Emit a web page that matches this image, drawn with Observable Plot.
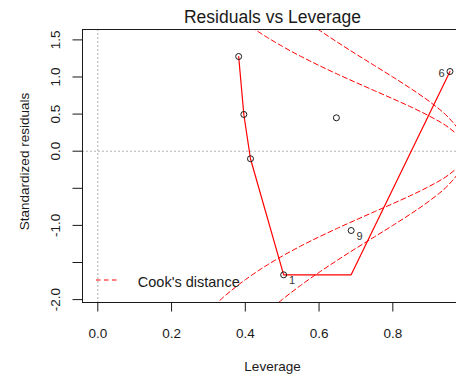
<!DOCTYPE html>
<html>
<head>
<meta charset="utf-8">
<script src="https://cdn.jsdelivr.net/npm/d3@7"></script>
<script src="https://cdn.jsdelivr.net/npm/@observablehq/plot@0.6"></script>
<style>
  html, body { margin: 0; padding: 0; background: #fff; }
  #chart { width: 456px; height: 381px; }
</style>
</head>
<body>
<div id="chart"></div>
<script>
// Observations: leverage (hat values) and standardized residuals
const leverage = [0.382, 0.396, 0.414, 0.504, 0.647, 0.687, 0.955];
const stdResid = [1.276, 0.495, -0.102, -1.666, 0.450, -1.069, 1.074];
const pointLabel = ["", "", "", "1", "", "9", "6"];

// Smoothed trend of residuals against leverage
const smoothLeverage = [0.382, 0.396, 0.414, 0.504, 0.647, 0.687, 0.955];
const smoothResid = [1.276, 0.495, -0.102, -1.666, -1.666, -1.666, 1.074];

// Cook's distance contours (levels 0.5 and 1), residual magnitude by leverage
const cookLevels = ["0.5", "1"];
const cookLeverage = [0.30, 0.32, 0.34, 0.36, 0.38, 0.40, 0.42, 0.44, 0.46, 0.48, 0.50,
                      0.55, 0.60, 0.65, 0.70, 0.75, 0.80, 0.85, 0.90, 0.95, 0.98];
const cookResid05 = [2.160, 2.062, 1.970, 1.886, 1.806, 1.732, 1.662, 1.595, 1.532, 1.472, 1.414,
                     1.279, 1.155, 1.038, 0.926, 0.816, 0.707, 0.594, 0.471, 0.324, 0.202];
const cookResid1 = [3.055, 2.915, 2.787, 2.667, 2.555, 2.449, 2.350, 2.256, 2.167, 2.082, 2.000,
                    1.809, 1.633, 1.468, 1.309, 1.155, 1.000, 0.840, 0.667, 0.459, 0.286];

// Axis ticks and labels
const xTicks = [0, 0.2, 0.4, 0.6, 0.8];
const xTickLabels = ["0.0", "0.2", "0.4", "0.6", "0.8"];
const yTicks = [-2, -1.5, -1, -0.5, 0, 0.5, 1, 1.5];
const yTickLabels = ["-2.0", "", "-1.0", "", "0.0", "0.5", "1.0", "1.5"];

const titleText = "Residuals vs Leverage";
const xLabel = "Leverage";
const yLabel = "Standardized residuals";
const legendText = "Cook's distance";

// Tables for the marks
const points = leverage.map((h, i) => ({h, r: stdResid[i], label: pointLabel[i]}));
const smooth = smoothLeverage.map((h, i) => ({h, r: smoothResid[i]}));
const cookRows = [];
[cookResid05, cookResid1].forEach((vals, k) => {
  for (const sign of [1, -1]) {
    cookLeverage.forEach((h, i) => cookRows.push({h, r: sign * vals[i], key: cookLevels[k] + (sign > 0 ? "+" : "-")}));
  }
});
const yTickRows = yTicks.map((v, i) => ({v, label: yTickLabels[i]})).filter(d => d.label !== "");

const xDomain = [-0.0415, 0.9727];
const yDomain = [-2.039, 1.640];
const font = "'Liberation Sans', Arial, Helvetica, sans-serif";
const ink = "#1a1a1a";

const chart = Plot.plot({
  width: 456,
  height: 381,
  marginLeft: 82,
  marginRight: 0,
  marginTop: 29,
  marginBottom: 79,
  style: {fontFamily: font, fontSize: "13.5px", background: "#fff", color: ink},
  x: {domain: xDomain},
  y: {domain: yDomain},
  marks: [
    // reference lines at zero leverage and zero residual
    Plot.ruleY([0], {stroke: "#b0b0b0", strokeDasharray: "2,2", strokeWidth: 1}),
    Plot.ruleX([0], {stroke: "#b0b0b0", strokeDasharray: "2,2", strokeWidth: 1}),
    // Cook's distance contours
    Plot.line(cookRows, {x: "h", y: "r", z: "key", stroke: "#ff0000", strokeWidth: 1,
      strokeDasharray: "5,3", curve: "monotone-x", clip: true}),
    // smoother
    Plot.line(smooth, {x: "h", y: "r", stroke: "#ff0000", strokeWidth: 1.2, clip: true}),
    // observations
    Plot.dot(points, {x: "h", y: "r", r: 3, stroke: ink, strokeWidth: 1, fill: "none"}),
    Plot.text(points.filter(d => d.label && d.h < 0.8), {x: "h", y: "r", text: "label",
      dx: 8.5, dy: 6, fontSize: 11, fill: "#333", lineAnchor: "middle"}),
    Plot.text(points.filter(d => d.label && d.h >= 0.8), {x: "h", y: "r", text: "label",
      dx: -8.5, dy: 1.5, fontSize: 11, fill: "#333", lineAnchor: "middle"}),
    // plot box (left, top, bottom)
    Plot.ruleX([xDomain[0]], {stroke: ink, strokeWidth: 1}),
    Plot.ruleY(yDomain, {stroke: ink, strokeWidth: 1}),
    // axes
    Plot.axisX({ticks: xTicks, tickFormat: d => xTickLabels[xTicks.indexOf(d)], tickSize: 9.5,
      tickPadding: 16.5, fontSize: 13.5, label: null, stroke: ink, fill: ink}),
    Plot.axisY({ticks: yTicks, tickFormat: () => "", tickSize: 9.5, label: null, stroke: ink}),
    Plot.text(yTickRows, {y: "v", text: "label", frameAnchor: "left", dx: -26.5, rotate: -90,
      fontSize: 13.5, fill: ink, textAnchor: "middle", lineAnchor: "middle"}),
    // titles
    Plot.text([titleText], {frameAnchor: "top", dx: 3, dy: -12.6, fontSize: 17.5, fill: ink,
      textAnchor: "middle", lineAnchor: "middle"}),
    Plot.text([xLabel], {frameAnchor: "bottom", dx: 3, dy: 63.7, fontSize: 13.5, fill: ink,
      textAnchor: "middle", lineAnchor: "middle"}),
    Plot.text([yLabel], {frameAnchor: "left", dx: -58.3, dy: -4.5, rotate: -90, fontSize: 13.5,
      fill: ink, textAnchor: "middle", lineAnchor: "middle"}),
    // legend label
    Plot.text([legendText], {frameAnchor: "bottom-left", textAnchor: "start", dx: 55.3, dy: -20.6,
      fontSize: 14.5, fill: ink, lineAnchor: "middle"})
  ]
});

document.getElementById("chart").appendChild(chart);

// legend key: dashed sample line beside the legend label
const xs = chart.scale("x").range;
const ys = chart.scale("y").range;
const left = Math.min(...xs), bottom = Math.max(...ys);
d3.select(chart).append("line")
  .attr("x1", left + 14).attr("x2", left + 38)
  .attr("y1", bottom - 22).attr("y2", bottom - 22)
  .attr("stroke", "#ff0000").attr("stroke-width", 1)
  .attr("stroke-dasharray", "4.5,3.5");
</script>
</body>
</html>
